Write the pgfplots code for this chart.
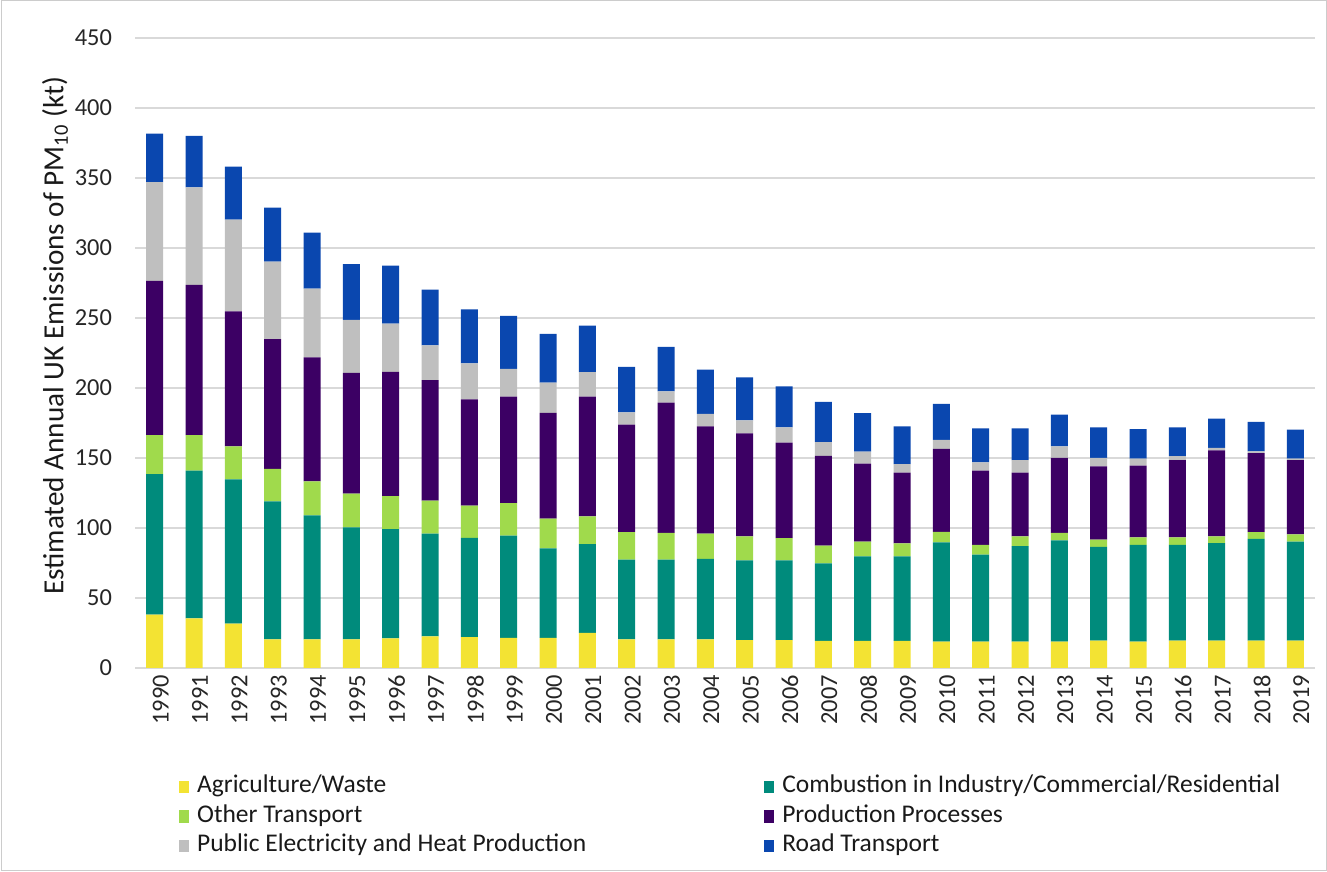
\documentclass[border=0pt]{standalone}
\usepackage{pgfplots}
\pgfplotsset{compat=1.18}
\usepackage{pgfplotstable}
\usepackage{fontspec}
\setmainfont{Carlito}

\definecolor{cA}{RGB}{243,227,51}
\definecolor{cC}{RGB}{0,139,124}
\definecolor{cO}{RGB}{160,218,76}
\definecolor{cP}{RGB}{60,0,100}
\definecolor{cE}{RGB}{191,191,191}
\definecolor{cR}{RGB}{10,71,175}

\pgfplotstableread{
x yr A C O P E R
0 1990 38.2 100.2 28.0 110.2 70.4 34.7
1 1991 35.5 105.4 25.5 107.3 69.6 36.8
2 1992 31.7 103.0 23.6 96.5 65.4 37.9
3 1993 20.4 98.7 23.1 92.7 55.4 38.5
4 1994 20.4 88.7 24.2 88.5 49.2 40.0
5 1995 20.4 80.1 24.0 86.3 37.9 39.7
6 1996 21.2 78.0 23.6 88.8 34.4 41.4
7 1997 22.6 73.4 23.6 86.0 24.8 39.8
8 1998 22.0 71.0 22.9 76.0 25.6 38.7
9 1999 21.5 73.1 23.1 76.1 19.9 37.9
10 2000 21.5 64.0 21.2 75.6 21.5 34.9
11 2001 25.0 63.4 19.9 85.5 17.5 33.3
12 2002 20.4 57.0 19.6 76.9 8.6 32.6
13 2003 20.4 57.0 19.1 93.0 8.1 31.7
14 2004 20.4 57.6 18.0 76.6 8.9 31.7
15 2005 19.9 57.0 17.2 73.4 9.4 30.6
16 2006 19.9 57.0 15.8 68.3 10.8 29.3
17 2007 19.4 55.3 12.7 64.2 9.7 28.8
18 2008 19.4 60.4 10.5 55.7 8.6 27.4
19 2009 19.4 60.4 9.2 50.5 6.2 26.9
20 2010 18.8 71.0 7.5 59.2 6.4 25.8
21 2011 18.8 62.1 7.0 53.0 5.9 24.4
22 2012 18.8 68.3 7.0 45.4 8.9 22.8
23 2013 18.8 72.3 5.4 53.5 8.3 22.6
24 2014 19.6 67.0 5.1 52.4 5.9 21.8
25 2015 18.8 69.1 5.4 51.3 4.9 21.2
26 2016 19.6 68.3 5.4 55.1 2.9 20.5
27 2017 19.6 69.6 4.9 61.3 1.9 20.9
28 2018 19.6 72.6 4.8 56.5 1.3 21.0
29 2019 19.6 70.7 5.1 53.0 1.1 20.7
}\data

\begin{document}
\begin{tikzpicture}
\path[use as bounding box] (0,0) rectangle (663.5pt,436pt);
\draw[black!20, line width=0.5pt] (0.5pt,0.5pt) rectangle (663pt,435.5pt);
\begin{axis}[
  at={(67.5pt,102pt)}, anchor=south west,
  scale only axis, width=590pt, height=315pt,
  ybar stacked, bar width=8.5pt,
  xmin=-0.5, xmax=29.5, ymin=0, ymax=450,
  xtick=data,
  xticklabels={1990,1991,1992,1993,1994,1995,1996,1997,1998,1999,2000,2001,2002,2003,2004,2005,2006,2007,2008,2009,2010,2011,2012,2013,2014,2015,2016,2017,2018,2019},
  ytick={0,50,...,450},
  ymajorgrids, grid style={draw=black!15, line width=0.7pt},
  axis line style={draw=none},
  major tick length=0pt,
  tick label style={font=\fontsize{12.2}{14}\selectfont, text=black!85},
  /pgf/number format/assume math mode=true,
  yticklabel style={xshift=-8pt},
  xticklabel style={rotate=90, anchor=east, yshift=-3pt},
  ylabel={Estimated Annual UK Emissions of PM\textsubscript{10} (kt)},
  ylabel style={at={(axis description cs:-0.0678,0.527)}, anchor=center, font=\fontsize{14.6}{17}\selectfont, text=black!90},
  legend columns=2,
  legend cell align=left,
  legend style={at={(axis description cs:0.032,-0.16)}, anchor=north west, draw=none,
    font=\fontsize{12.75}{15}\selectfont, text=black!90,
    nodes={inner sep=1pt, text height=8.8pt, text depth=3pt},
    row sep=0.95pt,
    /tikz/every odd column/.append style={column sep=3pt},
    /tikz/every even column/.append style={column sep=88pt}},
  legend image code/.code={\fill[#1] (0pt,-3.2pt) rectangle (5pt,3.2pt);},
]
\addplot[fill=cA, draw=none] table[x=x,y=A]{\data};
\addplot[fill=cC, draw=none] table[x=x,y=C]{\data};
\addplot[fill=cO, draw=none] table[x=x,y=O]{\data};
\addplot[fill=cP, draw=none] table[x=x,y=P]{\data};
\addplot[fill=cE, draw=none] table[x=x,y=E]{\data};
\addplot[fill=cR, draw=none] table[x=x,y=R]{\data};
\legend{Agriculture/Waste, Combustion in Industry/Commercial/Residential, Other Transport, Production Processes, Public Electricity and Heat Production, Road Transport}
\end{axis}
\end{tikzpicture}
\end{document}
